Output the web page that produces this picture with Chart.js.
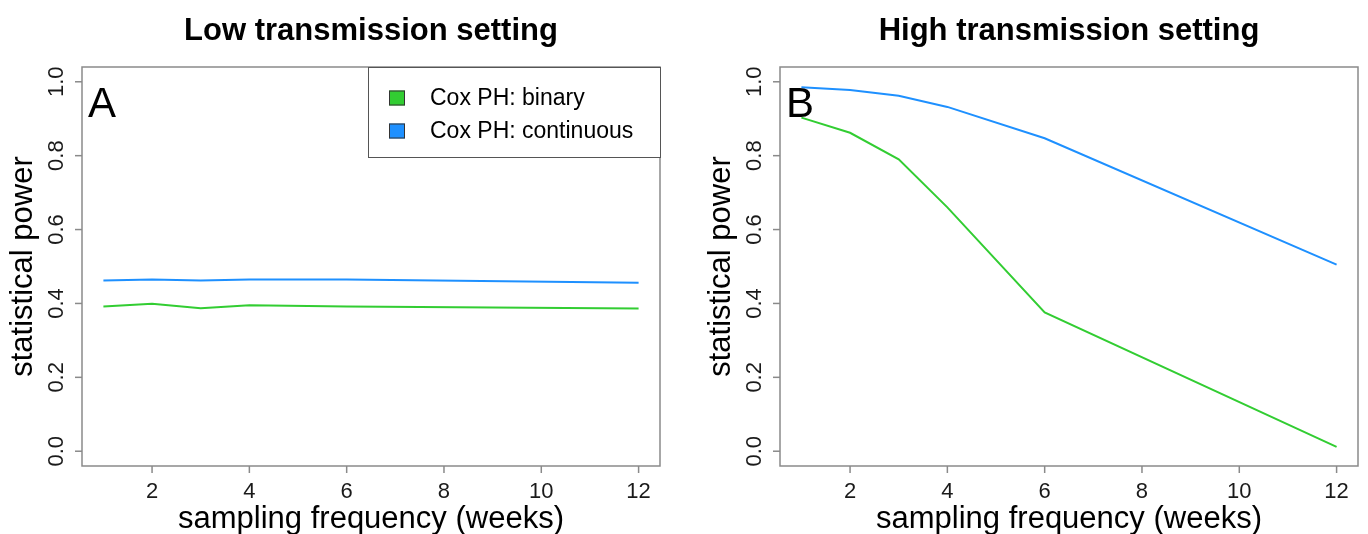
<!DOCTYPE html>
<html>
<head>
<meta charset="utf-8">
<script src="https://cdn.jsdelivr.net/npm/chart.js@4/dist/chart.umd.min.js"></script>
<style>
html,body{margin:0;padding:0;background:#fff;}
#wrap{position:relative;width:1368px;height:534px;}
canvas{position:absolute;top:0;}
#c1{left:0;} #c2{left:684px;}
</style>
</head>
<body>
<div id="wrap">
<canvas id="c1" width="684" height="534"></canvas>
<canvas id="c2" width="684" height="534"></canvas>
</div>
<script>
// ---- data ----
const samplingWeeks = [1, 2, 3, 4, 6, 12];
const lowBinary     = [0.392, 0.399, 0.387, 0.395, 0.392, 0.386];
const lowContinuous = [0.462, 0.465, 0.462, 0.465, 0.465, 0.456];
const highBinary     = [0.903, 0.862, 0.790, 0.660, 0.376, 0.012];
const highContinuous = [0.985, 0.978, 0.962, 0.932, 0.847, 0.505];
const xTickValues = [2, 4, 6, 8, 10, 12];
const yTickValues = [0.0, 0.2, 0.4, 0.6, 0.8, 1.0];
const seriesNames = ['Cox PH: binary', 'Cox PH: continuous'];
const seriesColors = ['#32CD32', '#1E90FF'];
const panelTitles = ['Low transmission setting', 'High transmission setting'];
const panelLetters = ['A', 'B'];
const xTitle = 'sampling frequency (weeks)';
const yTitle = 'statistical power';

const FONT = '"Liberation Sans", Arial, sans-serif';
const AXIS_GREY = '#8a8a8a';

function pts(xs, ys) { return xs.map((x, i) => ({x: x, y: ys[i]})); }

const rStyle = {
  id: 'rStyle',
  afterDraw(chart, args, opts) {
    const ctx = chart.ctx, a = chart.chartArea;
    const xs = chart.scales.x, ys = chart.scales.y;
    ctx.save();
    // box
    ctx.strokeStyle = AXIS_GREY; ctx.lineWidth = 1.5;
    ctx.strokeRect(a.left, a.top, a.right - a.left, a.bottom - a.top);
    // x ticks
    ctx.fillStyle = '#1a1a1a';
    ctx.font = '22px ' + FONT;
    ctx.textAlign = 'center'; ctx.textBaseline = 'alphabetic';
    xTickValues.forEach(v => {
      const px = xs.getPixelForValue(v);
      ctx.beginPath(); ctx.moveTo(px, a.bottom); ctx.lineTo(px, a.bottom + 7); ctx.stroke();
      ctx.fillText(String(v), px, a.bottom + 32);
    });
    // y ticks
    yTickValues.forEach(v => {
      const py = ys.getPixelForValue(v);
      ctx.beginPath(); ctx.moveTo(a.left - 7, py); ctx.lineTo(a.left, py); ctx.stroke();
      ctx.save();
      ctx.translate(a.left - 19, py);
      ctx.rotate(-Math.PI / 2);
      ctx.textAlign = 'center'; ctx.textBaseline = 'alphabetic';
      ctx.fillText(v.toFixed(1), 0, 0);
      ctx.restore();
    });
    // axis titles
    ctx.fillStyle = '#000';
    ctx.font = '31px ' + FONT;
    ctx.textAlign = 'center'; ctx.textBaseline = 'alphabetic';
    ctx.fillText(xTitle, (a.left + a.right) / 2, a.bottom + 62);
    ctx.save();
    ctx.translate(a.left - 50, (a.top + a.bottom) / 2);
    ctx.rotate(-Math.PI / 2);
    ctx.fillText(yTitle, 0, 0);
    ctx.restore();
    // main title
    ctx.font = 'bold 31px ' + FONT;
    ctx.fillText(opts.title, (a.left + a.right) / 2, 40);
    // panel letter
    ctx.font = '42px ' + FONT;
    ctx.textAlign = 'left';
    ctx.fillText(opts.letter, a.left + 6, a.top + 50);
    // legend
    if (opts.legend) {
      const ds = chart.data.datasets;
      const lx = 368, ly = a.top, lw = a.right - lx, lh = 90;
      ctx.fillStyle = '#fff';
      ctx.fillRect(lx, ly, lw, lh);
      ctx.strokeStyle = '#555'; ctx.lineWidth = 1;
      ctx.strokeRect(lx + 0.5, ly + 0.5, lw, lh);
      ctx.font = '23px ' + FONT;
      ctx.textBaseline = 'middle';
      ds.forEach((d, i) => {
        const cy = ly + 31 + i * 33;
        ctx.fillStyle = d.borderColor;
        ctx.fillRect(lx + 21, cy - 7.5, 16, 15);
        ctx.strokeStyle = '#333';
        ctx.strokeRect(lx + 21.5, cy - 7, 15, 14);
        ctx.fillStyle = '#000';
        ctx.fillText(d.label, lx + 62, cy + 1);
      });
    }
    ctx.restore();
  }
};

function makeChart(id, binary, cont, idx, padLeft, padRight) {
  return new Chart(document.getElementById(id), {
    type: 'line',
    data: {
      datasets: [
        {label: seriesNames[0], data: pts(samplingWeeks, binary), borderColor: seriesColors[0], backgroundColor: seriesColors[0], borderWidth: 2, pointRadius: 0, tension: 0, fill: false},
        {label: seriesNames[1], data: pts(samplingWeeks, cont), borderColor: seriesColors[1], backgroundColor: seriesColors[1], borderWidth: 2, pointRadius: 0, tension: 0, fill: false}
      ]
    },
    options: {
      responsive: false,
      animation: false,
      devicePixelRatio: 1,
      layout: {padding: {left: padLeft, right: padRight, top: 67, bottom: 68}},
      scales: {
        x: {type: 'linear', display: false, min: 0.56, max: 12.44},
        y: {type: 'linear', display: false, min: -0.04, max: 1.04}
      },
      plugins: {
        legend: {display: false},
        tooltip: {enabled: false},
        rStyle: {title: panelTitles[idx], letter: panelLetters[idx], legend: idx === 0}
      }
    },
    plugins: [rStyle]
  });
}

makeChart('c1', lowBinary, lowContinuous, 0, 82, 24);
makeChart('c2', highBinary, highContinuous, 1, 96, 10);
</script>
</body>
</html>
